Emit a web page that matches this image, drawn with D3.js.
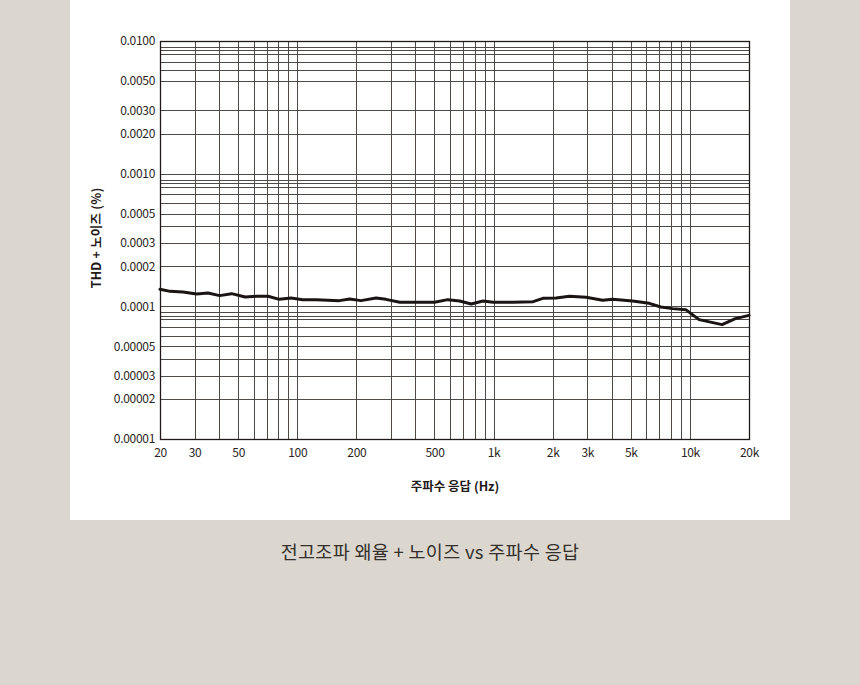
<!DOCTYPE html>
<html><head><meta charset="utf-8">
<script src="https://cdn.jsdelivr.net/npm/d3@7"></script>
<style>
html,body{margin:0;padding:0;background:#dbd7cf;}
body{width:860px;height:685px;overflow:hidden;font-family:"Noto Sans CJK KR","Noto Sans",sans-serif;}
</style></head>
<body>
<svg id="chart" width="860" height="685"></svg>
<script>
const title = "전고조파 왜율 + 노이즈 vs 주파수 응답";
const xLabel = "주파수 응답 (Hz)";
const yLabel = "THD + 노이즈 (%)";
const xTickValues = [20, 30, 50, 100, 200, 500, 1000, 2000, 3000, 5000, 10000, 20000];
const xTickLabels = ["20", "30", "50", "100", "200", "500", "1k", "2k", "3k", "5k", "10k", "20k"];
const yTickValues = [0.01, 0.005, 0.003, 0.002, 0.001, 0.0005, 0.0003, 0.0002, 0.0001, 0.00005, 0.00003, 0.00002, 0.00001];
const yTickLabels = ["0.0100", "0.0050", "0.0030", "0.0020", "0.0010", "0.0005", "0.0003", "0.0002", "0.0001", "0.00005", "0.00003", "0.00002", "0.00001"];
const xGrid = [30, 40, 50, 60, 70, 80, 90, 100, 200, 300, 400, 500, 600, 700, 800, 900, 1000, 2000, 3000, 4000, 5000, 6000, 7000, 8000, 9000, 10000];
const yGrid = [0.009, 0.0085, 0.008, 0.007, 0.006, 0.005, 0.003, 0.002,
  0.001, 0.0009, 0.00085, 0.0008, 0.0007, 0.0006, 0.0005, 0.0004, 0.0003, 0.0002,
  0.0001, 0.00009, 0.000085, 0.00008, 0.00007, 0.00006, 0.00005, 0.00004, 0.00003, 0.00002];
const freq = [20, 22.5, 26.2, 30.7, 35.1, 40.3, 46.3, 54.3, 62, 71.1, 81, 93, 106.6, 125, 164, 185, 211, 252, 283, 333, 406, 500, 585, 672, 769, 884, 994, 1259, 1590, 1782, 2083, 2435, 2961, 3594, 4040, 5105, 6208, 7116, 8152, 9528, 11140, 14580, 17040, 20000];
const thd = [1.343e-4, 1.297e-4, 1.28e-4, 1.238e-4, 1.26e-4, 1.204e-4, 1.246e-4, 1.175e-4, 1.19e-4, 1.19e-4, 1.129e-4, 1.155e-4, 1.123e-4, 1.123e-4, 1.104e-4, 1.135e-4, 1.104e-4, 1.155e-4, 1.129e-4, 1.072e-4, 1.072e-4, 1.072e-4, 1.123e-4, 1.096e-4, 1.041e-4, 1.096e-4, 1.072e-4, 1.072e-4, 1.085e-4, 1.149e-4, 1.155e-4, 1.19e-4, 1.169e-4, 1.11e-4, 1.129e-4, 1.096e-4, 1.053e-4, 0.988e-4, 0.961e-4, 0.944e-4, 0.794e-4, 0.728e-4, 0.808e-4, 0.855e-4];

const svg = d3.select("#chart");
svg.append("rect").attr("x", 70).attr("y", 0).attr("width", 720).attr("height", 520).attr("fill", "#ffffff");

const pLeft = 160, pRight = 749, pTop = 41, pBottom = 439;
const x = d3.scaleLog().domain([20, 20000]).range([pLeft, pRight]);
const y = d3.scaleLog().domain([0.00001, 0.01]).range([pBottom, pTop]);
const px = v => Math.round(v) + 0.5;

const g = svg.append("g");
g.append("g").selectAll("line").data(yGrid).join("line")
  .attr("x1", pLeft).attr("x2", pRight)
  .attr("y1", d => px(y(d))).attr("y2", d => px(y(d)))
  .attr("stroke", "#4f4a46").attr("stroke-width", 1);
g.append("g").selectAll("line").data(xGrid).join("line")
  .attr("y1", pTop).attr("y2", pBottom)
  .attr("x1", d => px(x(d))).attr("x2", d => px(x(d)))
  .attr("stroke", "#4f4a46").attr("stroke-width", 1);
g.append("rect").attr("x", px(pLeft)).attr("y", px(pTop))
  .attr("width", Math.round(pRight) - Math.round(pLeft)).attr("height", Math.round(pBottom) - Math.round(pTop))
  .attr("fill", "none").attr("stroke", "#1f1a17").attr("stroke-width", 1.3);

const xAxis = d3.axisBottom(x).tickValues(xTickValues).tickFormat((d, i) => xTickLabels[i]).tickSize(0).tickPadding(9);
const gx = svg.append("g").attr("transform", `translate(0,${pBottom})`).call(xAxis);
gx.select(".domain").remove();
gx.selectAll("text").attr("font-size", 12).attr("fill", "#2a2522").attr("font-family", "'Noto Sans CJK KR',sans-serif").attr("letter-spacing", "-0.3px");

const yAxis = d3.axisLeft(y).tickValues(yTickValues).tickFormat((d, i) => yTickLabels[i]).tickSize(0).tickPadding(5);
const gy = svg.append("g").attr("transform", `translate(${pLeft},0)`).call(yAxis);
gy.select(".domain").remove();
gy.selectAll("text").attr("font-size", 12).attr("fill", "#2a2522").attr("font-family", "'Noto Sans CJK KR',sans-serif").attr("letter-spacing", "-0.3px");

const line = d3.line().x((d, i) => x(freq[i])).y(d => y(d)).curve(d3.curveLinear);
svg.append("path").datum(thd).attr("d", line).attr("fill", "none")
  .attr("stroke", "#1a1412").attr("stroke-width", 3).attr("stroke-linejoin", "round").attr("stroke-linecap", "round");

svg.append("text").attr("x", 455).attr("y", 491).attr("text-anchor", "middle")
  .attr("font-size", 12.5).attr("font-weight", "bold").attr("fill", "#1f1a17").text(xLabel);
svg.append("text").attr("transform", "translate(101,238) rotate(-90)").attr("text-anchor", "middle")
  .attr("font-size", 12.5).attr("font-weight", "bold").attr("fill", "#1f1a17").attr("letter-spacing", "0.2px").text(yLabel);
svg.append("text").attr("x", 430).attr("y", 559).attr("text-anchor", "middle")
  .attr("font-size", 18.5).attr("font-weight", "normal").attr("fill", "#35302b").attr("letter-spacing", "0.3px").text(title);
</script>
</body></html>
